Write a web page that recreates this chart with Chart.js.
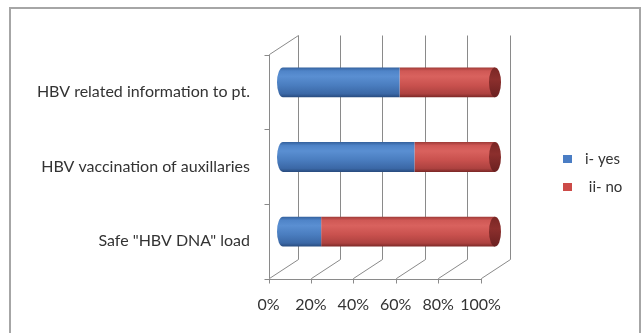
<!DOCTYPE html>
<html lang="en">
<head>
    <meta charset="UTF-8">
    <title>HBV chart</title>
    <script src="https://cdn.jsdelivr.net/npm/chart.js"></script>
    <style>
        html, body { margin: 0; padding: 0; background: #ffffff; }
        .chart-box { width: 642px; height: 333px; }
    </style>
</head>
<body>
    <div class="chart-box">
        <canvas id="chart1" width="642" height="333"></canvas>
    </div>

    <script>
        // Daten
        const categories = ['HBV related information to pt.', 'HBV vaccination of auxillaries', 'Safe "HBV DNA" load'];
        const yesValues = [55, 62, 18];
        const noValues = [45, 38, 82];
        const xTicks = [0, 20, 40, 60, 80, 100];
        const seriesNames = ['i- yes', ' ii- no'];

        // 3D-Versatz (vorne -> hinten)
        const DX = 29, DY = -19;
        const gridColor = '#8a8a8a';
        const textColor = '#333333';
        const fontFam = 'Lato, "Liberation Sans", sans-serif';

        function cylinderFill(stops) {
            return function (context) {
                const chart = context.chart;
                if (!chart.chartArea) return stops[2][1];
                const cy = chart.scales.y.getPixelForValue(context.dataIndex);
                const h = 30;
                const g = chart.ctx.createLinearGradient(0, cy - h / 2, 0, cy + h / 2);
                stops.forEach(s => g.addColorStop(s[0], s[1]));
                return g;
            };
        }

        const blueStops = [[0, '#33609c'], [0.12, '#4f84c8'], [0.3, '#5a8fd2'], [0.6, '#4a7dbf'], [0.88, '#3b68a6'], [1, '#274a7d']];
        const redStops = [[0, '#9e3a37'], [0.12, '#cf5855'], [0.3, '#d9625e'], [0.6, '#c9514e'], [0.88, '#ad4240'], [1, '#7a2725']];
        const redCap = '#8c2f2d';

        // Rahmen, 3D-Gitter, Achsen
        const gridPlugin = {
            id: 'grid3d',
            beforeDraw(chart) {
                const c = chart.ctx;
                c.save();
                c.fillStyle = '#ffffff';
                c.fillRect(0, 0, chart.width, chart.height);
                c.strokeStyle = '#a6a6a6';
                c.lineWidth = 2;
                c.strokeRect(10, 8, 630, 340);
                c.restore();
            },
            beforeDatasetsDraw(chart) {
                const c = chart.ctx;
                const xs = chart.scales.x;
                const area = chart.chartArea;
                // vordere Ebene = Mitte - halber Versatz
                const fx = v => xs.getPixelForValue(v) - DX / 2;
                const fTop = area.top - DY / 2;
                const fBot = area.bottom - DY / 2;
                c.save();
                c.strokeStyle = gridColor;
                c.lineWidth = 1;
                c.beginPath();
                xTicks.forEach(v => {
                    const x = Math.round(fx(v)) + 0.5;
                    // hintere Gitterlinie
                    c.moveTo(x + DX, fTop + DY);
                    c.lineTo(x + DX, fBot + DY);
                    // Boden-Diagonale
                    c.moveTo(x, fBot);
                    c.lineTo(x + DX, fBot + DY);
                    // Tick nach unten
                    c.moveTo(x, fBot);
                    c.lineTo(x, fBot + 5);
                });
                // Bodenkante vorne
                const x0 = Math.round(fx(0)) + 0.5;
                const x1 = Math.round(fx(100)) + 0.5;
                c.moveTo(x0, Math.round(fBot) + 0.5);
                c.lineTo(x1, Math.round(fBot) + 0.5);
                // linke Achse vorne
                c.moveTo(x0, fTop);
                c.lineTo(x0, fBot);
                c.moveTo(x0, fTop);
                c.lineTo(x0 + DX, fTop + DY);
                // Kategorie-Ticks
                const step = (fBot - fTop) / categories.length;
                for (let i = 0; i <= categories.length; i++) {
                    const y = Math.round(fTop + i * step) + 0.5;
                    c.moveTo(x0 - 5, y);
                    c.lineTo(x0, y);
                }
                c.stroke();
                c.restore();
            },
            afterDatasetsDraw(chart) {
                const c = chart.ctx;
                const rx = 6;
                const metaYes = chart.getDatasetMeta(0);
                const metaNo = chart.getDatasetMeta(1);
                c.save();
                metaYes.data.forEach(bar => {
                    const h = bar.height;
                    // linkes Ende, runde Seite
                    const g = c.createLinearGradient(0, bar.y - h / 2, 0, bar.y + h / 2);
                    blueStops.forEach(s => g.addColorStop(s[0], s[1]));
                    c.fillStyle = g;
                    c.beginPath();
                    c.ellipse(bar.base, bar.y, rx, h / 2, 0, Math.PI / 2, Math.PI * 1.5);
                    c.closePath();
                    c.fill();
                });
                metaNo.data.forEach(bar => {
                    const h = bar.height;
                    const g = c.createLinearGradient(0, bar.y - h / 2, 0, bar.y + h / 2);
                    g.addColorStop(0, '#7a2725');
                    g.addColorStop(0.4, redCap);
                    g.addColorStop(1, '#6a2020');
                    c.fillStyle = g;
                    c.beginPath();
                    c.ellipse(bar.x, bar.y, rx, h / 2, 0, 0, Math.PI * 2);
                    c.fill();
                });
                c.restore();
            },
            afterDraw(chart) {
                // Legende
                const c = chart.ctx;
                c.save();
                c.font = '15px ' + fontFam;
                c.textBaseline = 'middle';
                chart.data.datasets.forEach((ds, i) => {
                    const y = 159 + i * 28;
                    c.fillStyle = i === 0 ? '#4a7dc4' : '#cc4b48';
                    c.fillRect(563, y - 4, 9, 8);
                    c.fillStyle = textColor;
                    c.fillText(ds.label, 585, y);
                });
                c.restore();
            }
        };

        const ctx1 = document.getElementById('chart1').getContext('2d');

        const chart1 = new Chart(ctx1, {
            type: 'bar',
            data: {
                labels: categories,
                datasets: [{
                    label: seriesNames[0],
                    data: yesValues,
                    backgroundColor: cylinderFill(blueStops),
                    borderWidth: 0,
                    barPercentage: 0.4,
                    categoryPercentage: 1
                }, {
                    label: seriesNames[1],
                    data: noValues,
                    backgroundColor: cylinderFill(redStops),
                    borderWidth: 0,
                    barPercentage: 0.4,
                    categoryPercentage: 1
                }]
            },
            options: {
                indexAxis: 'y',
                responsive: false,
                animation: false,
                layout: {
                    padding: { left: 0, right: 147, top: 45, bottom: 0 }
                },
                plugins: {
                    legend: { display: false },
                    tooltip: { enabled: false }
                },
                scales: {
                    x: {
                        stacked: true,
                        min: 0,
                        max: 100,
                        grid: { display: false, drawTicks: false },
                        border: { display: false },
                        afterFit(scale) { scale.height = 64; },
                        afterBuildTicks(scale) { scale.ticks = xTicks.map(v => ({ value: v })); },
                        ticks: {
                            callback: v => v + '%',
                            labelOffset: -DX / 2,
                            padding: 26,
                            autoSkip: false,
                            color: textColor,
                            font: { family: fontFam, size: 16 },
                            maxRotation: 0
                        }
                    },
                    y: {
                        stacked: true,
                        grid: { display: false, drawTicks: false },
                        border: { display: false },
                        afterFit(scale) { scale.width = 283; },
                        ticks: {
                            labelOffset: -DY / 2,
                            padding: 33,
                            color: textColor,
                            font: { family: fontFam, size: 16 }
                        }
                    }
                }
            },
            plugins: [gridPlugin]
        });
    </script>
</body>
</html>
